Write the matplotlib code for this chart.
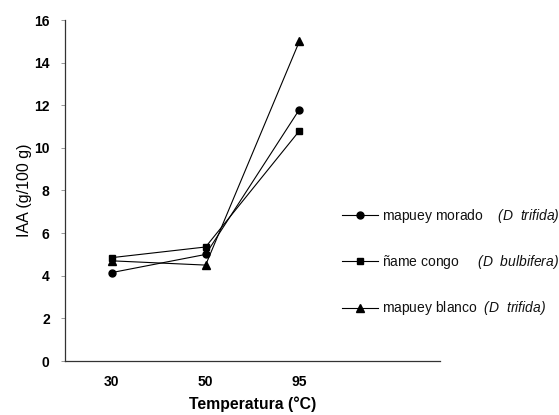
import matplotlib
matplotlib.use("Agg")
import matplotlib.pyplot as plt

plt.rcParams['font.family'] = ['Liberation Sans', 'DejaVu Sans']
plt.rcParams['mathtext.fontset'] = 'custom'
plt.rcParams['mathtext.it'] = 'Liberation Sans:italic'
plt.rcParams['mathtext.rm'] = 'Liberation Sans:italic'
plt.rcParams['text.color'] = '#111111'

categories = ['30', '50', '95']
morado = [4.15, 5.0, 11.8]
congo = [4.85, 5.35, 10.8]
blanco = [4.7, 4.5, 15.0]
labels = ['mapuey morado    $\\it{(D\\ \\ trifida)}$',
          'ñame congo     $\\it{(D\\ \\ bulbifera)}$',
          'mapuey blanco  $\\it{(D\\ \\ trifida)}$']
yticks = [0, 2, 4, 6, 8, 10, 12, 14, 16]

fig = plt.figure(figsize=(5.59, 4.15), dpi=100)
ax = fig.add_axes([65 / 559, 1 - 361 / 415, 375 / 559, 341 / 415])
x = list(range(len(categories)))
h1, = ax.plot(x, morado, color='black', lw=0.8, marker='o', ms=5)
h2, = ax.plot(x, congo, color='black', lw=0.8, marker='s', ms=4.6)
h3, = ax.plot(x, blanco, color='black', lw=0.8, marker='^', ms=5.2)

ax.set_xlim(-0.5, 3.5)
ax.set_ylim(0, 16)
ax.set_yticks(yticks)
ax.set_yticklabels([str(v) for v in yticks], fontweight='bold', fontsize=10)
ax.set_xticks(x)
ax.set_xticklabels(categories, fontweight='bold', fontsize=10)
ax.tick_params(axis='x', length=0, pad=10)
ax.tick_params(axis='y', length=3, width=0.6, color='#888888', pad=8)
for s in ['top', 'right']:
    ax.spines[s].set_visible(False)
for s in ['left', 'bottom']:
    ax.spines[s].set_color('#333333')
    ax.spines[s].set_linewidth(0.9)

ax.set_ylabel('IAA (g/100 g)', fontsize=11.5)
ax.yaxis.set_label_coords(-0.088, 0.5)
ax.set_xlabel('Temperatura (°C)', fontsize=11.3, fontweight='bold')
ax.xaxis.set_label_coords(0.5, -0.104)

fig.legend([h1, h2, h3], labels, loc='center left',
           bbox_to_anchor=(342 / 559, 1 - 262 / 415), frameon=False,
           fontsize=10, labelspacing=2.05, handlelength=2.6,
           handletextpad=0.3, borderpad=0, borderaxespad=0)

fig.savefig('out.png', dpi=100)
